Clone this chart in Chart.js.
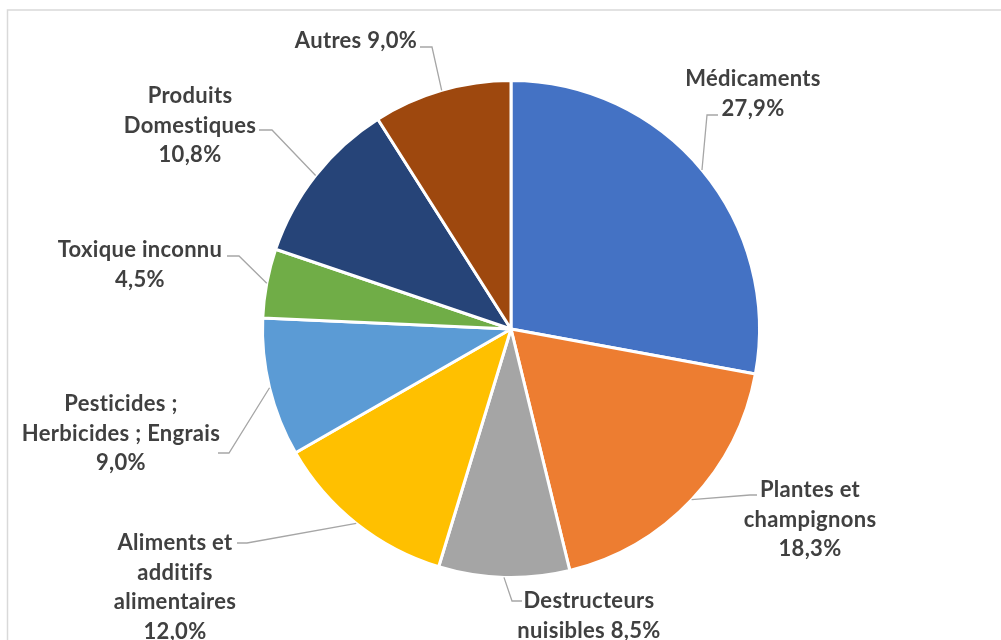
<!DOCTYPE html>
<html>
<head>
<meta charset="utf-8">
<script src="https://cdn.jsdelivr.net/npm/chart.js@4"></script>
<style>
  body { margin: 0; background: #fff; }
  #wrap { width: 1001px; height: 640px; }
</style>
</head>
<body>
<div id="wrap"><canvas id="pieChart" width="1001" height="640"></canvas></div>
<script>
// data
const categories = ['Médicaments', 'Plantes et champignons', 'Destructeurs nuisibles',
    'Aliments et additifs alimentaires', 'Pesticides ; Herbicides ; Engrais',
    'Toxique inconnu', 'Produits Domestiques', 'Autres'];
const percentages = [27.9, 18.3, 8.5, 12.0, 9.0, 4.5, 10.8, 9.0];
const sliceColors = ['#4472C4', '#ED7D31', '#A5A5A5', '#FFC000', '#5B9BD5', '#70AD47', '#264478', '#9E480E'];

// how each label is wrapped, {v} is replaced by the value
const labelLines = [
    ['Médicaments', '{v}'],
    ['Plantes et', 'champignons', '{v}'],
    ['Destructeurs', 'nuisibles {v}'],
    ['Aliments et', 'additifs', 'alimentaires', '{v}'],
    ['Pesticides ;', 'Herbicides ; Engrais', '{v}'],
    ['Toxique inconnu', '{v}'],
    ['Produits', 'Domestiques', '{v}'],
    ['Autres {v}']
];

// label placement: text centre x, first line y, leader start and knee
const labelPlace = [
    {x: 753, y: 79, start: [718, 115], knee: [707, 115]},
    {x: 810, y: 490, start: [757, 495], knee: [750, 495]},
    {x: 589, y: 601, start: [522, 601], knee: [512, 601]},
    {x: 175, y: 543, start: [237, 543], knee: [247, 543]},
    {x: 121, y: 404, start: [218, 453], knee: [229, 453]},
    {x: 140, y: 250, start: [227, 256], knee: [239, 256]},
    {x: 190, y: 96, start: [259, 130], knee: [272, 130]},
    {x: 356, y: 41, start: [420, 47], knee: [432, 47]}
];

const frame = {
    id: 'frame',
    beforeDraw(chart) {
        const ctx = chart.ctx;
        ctx.save();
        ctx.strokeStyle = '#d9d9d9';
        ctx.lineWidth = 1.5;
        ctx.strokeRect(7.5, 10, 2000, 2000);
        ctx.restore();
    }
};

const outsideLabels = {
    id: 'outsideLabels',
    afterDatasetsDraw(chart) {
        const ctx = chart.ctx;
        const arcs = chart.getDatasetMeta(0).data;
        ctx.save();
        arcs.forEach((arc, i) => {
            const p = arc.getProps(['x', 'y', 'startAngle', 'endAngle', 'outerRadius'], true);
            const mid = (p.startAngle + p.endAngle) / 2;
            const ax = p.x + Math.cos(mid) * p.outerRadius;
            const ay = p.y + Math.sin(mid) * p.outerRadius;
            const pl = labelPlace[i];

            ctx.strokeStyle = '#a6a6a6';
            ctx.lineWidth = 1.3;
            ctx.beginPath();
            ctx.moveTo(pl.start[0], pl.start[1]);
            ctx.lineTo(pl.knee[0], pl.knee[1]);
            ctx.lineTo(ax, ay);
            ctx.stroke();

            const val = percentages[i].toFixed(1).replace('.', ',') + '%';
            ctx.fillStyle = '#404040';
            ctx.font = 'bold 22px Lato';
            ctx.letterSpacing = '0.3px';
            ctx.textAlign = 'center';
            ctx.textBaseline = 'middle';
            labelLines[i].forEach((line, j) => {
                ctx.fillText(line.replace('{v}', val), pl.x, pl.y + j * 29.5);
            });
        });
        ctx.restore();
    }
};

new Chart(document.getElementById('pieChart'), {
    type: 'pie',
    data: {
        labels: categories,
        datasets: [{
            data: percentages,
            backgroundColor: sliceColors,
            borderColor: '#ffffff',
            borderWidth: 3
        }]
    },
    options: {
        responsive: false,
        animation: false,
        layout: { padding: { left: 261, right: 240, top: 79, bottom: 61 } },
        plugins: {
            legend: { display: false },
            tooltip: { enabled: false }
        }
    },
    plugins: [frame, outsideLabels]
});
</script>
</body>
</html>
